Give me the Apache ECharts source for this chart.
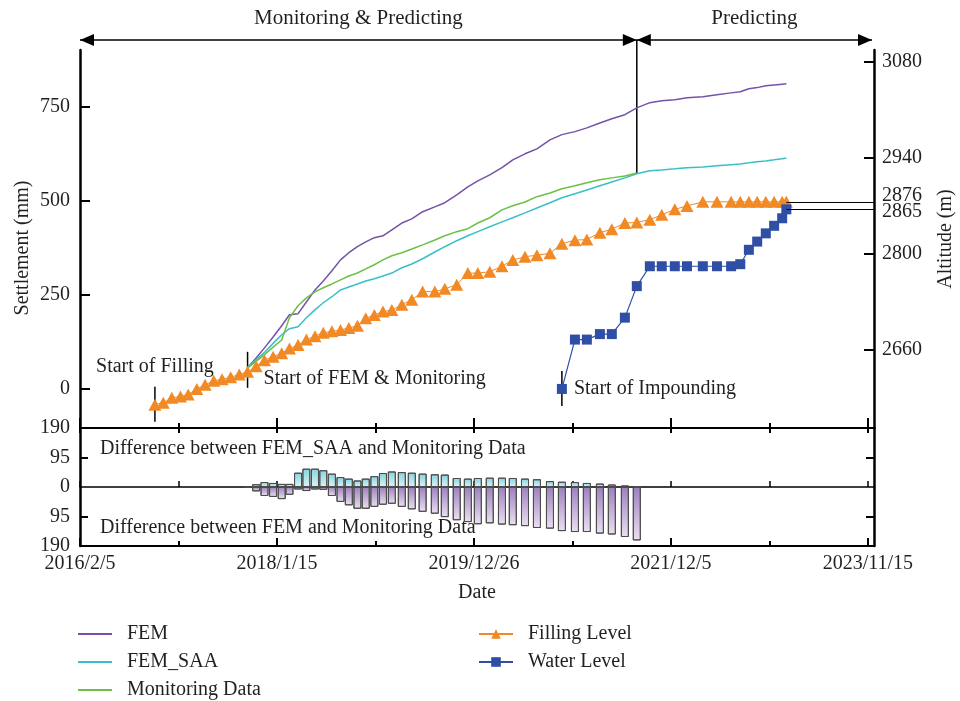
<!DOCTYPE html>
<html>
<head>
<meta charset="utf-8">
<script src="https://cdn.jsdelivr.net/npm/echarts@6/dist/echarts.min.js"></script>
<style>
html, body { margin: 0; padding: 0; background: #fff; }
#main { width: 960px; height: 701px; }
</style>
</head>
<body>
<div id="main"></div>
<script>
// sampling dates (filling level uses all of them)
var dates = [
    "2016/11/1", "2016/12/1", "2017/1/1", "2017/2/1", "2017/3/1", "2017/4/1", "2017/5/1", "2017/6/1",
    "2017/7/1", "2017/8/1", "2017/9/1", "2017/10/1", "2017/11/1", "2017/12/1", "2018/1/1", "2018/2/1",
    "2018/3/1", "2018/4/1", "2018/5/1", "2018/6/1", "2018/7/1", "2018/8/1", "2018/9/1", "2018/10/1",
    "2018/11/1", "2018/12/1", "2019/1/1", "2019/2/1", "2019/3/5", "2019/4/10", "2019/5/16", "2019/6/24",
    "2019/8/7", "2019/9/12", "2019/10/25", "2019/12/4", "2020/1/9", "2020/2/21", "2020/4/5", "2020/5/14",
    "2020/6/27", "2020/8/9", "2020/9/25", "2020/11/7", "2020/12/24", "2021/2/5", "2021/3/24", "2021/5/6",
    "2021/6/22", "2021/8/4", "2021/9/20", "2021/11/2", "2021/12/19", "2022/2/1", "2022/3/30", "2022/5/20",
    "2022/7/10", "2022/8/12", "2022/9/12", "2022/10/12", "2022/11/12", "2022/12/12", "2023/1/10", "2023/1/25"
];

// filling level (m), one value per date
var fillLevel = [
    2580, 2583, 2590, 2592, 2595, 2603, 2609, 2615, 2617, 2620, 2624, 2628,
    2636, 2645, 2650, 2655, 2662, 2667, 2675, 2680, 2685, 2687, 2689, 2692, 2695, 2706, 2711, 2716,
    2718, 2726, 2733, 2745, 2745, 2749, 2755, 2772,
    2772, 2774, 2782, 2791, 2796, 2798, 2801, 2815, 2820, 2821, 2831, 2836, 2845, 2846,
    2850, 2857, 2865, 2870, 2876, 2876, 2876, 2876, 2876, 2876, 2876, 2876, 2876, 2876
];

// settlement (mm), from 2017/10/1 on
var femValue = [
    56, 82, 109, 138, 168, 197, 200, 231, 263, 287, 314, 343, 362, 378, 391, 402, 407, 423, 441, 452,
    471, 484, 495, 516, 537, 553, 569, 588, 609, 625, 638, 662, 676, 684, 694, 707, 718, 729, 747, 761,
    766, 769, 774, 777, 782, 787, 790, 798, 801, 806, 808, 810, 811
];
var femSaaValue = [
    56, 77, 97, 121, 144, 160, 165, 189, 210, 229, 245, 263, 271, 279, 287, 293, 300, 308, 322, 332,
    346, 364, 378, 394, 407, 418, 431, 444, 455, 468, 481, 495, 508, 519, 529, 540, 550, 561, 572, 580,
    582, 585, 588, 590, 593, 596, 598, 601, 604, 606, 609, 612, 614
];
// monitoring data, 2017/10/1 - 2021/8/4
var monitorValue = [
    56, 73, 91, 111, 130, 189, 221, 242, 258, 269, 279, 290, 300, 308, 319, 330, 343, 354, 362, 372,
    383, 396, 407, 418, 426, 441, 455, 476, 487, 497, 511, 521, 532, 540, 548, 556, 561, 566, 574
];

// water level (m), from 2020/11/7 on
var waterLevel = [
    2603, 2675, 2675, 2683, 2683, 2707, 2753, 2782, 2782, 2782, 2782, 2782, 2782, 2782,
    2785, 2806, 2818, 2830, 2841, 2852, 2865
];

// differences (mm), 2017/10/1 - 2021/8/4
var diffSaa = [
    0, 9, 16, 13, 10, 10, 46, 59, 59, 54, 43, 32, 27, 21, 27, 35, 45, 50, 48, 46,
    43, 41, 40, 29, 27, 29, 30, 30, 29, 27, 25, 19, 17, 16, 13, 11, 8, 5, 3
];
var diffFem = [
    -3, -14, -29, -32, -39, -25, -8, -13, -8, -9, -29, -48, -59, -70, -70, -64, -57, -54, -64, -72,
    -80, -86, -97, -107, -113, -120, -117, -121, -123, -126, -132, -134, -142, -145, -145, -150, -153, -161, -172
];

// axis ticks
var xTickLabels = ["2016/2/5", "2018/1/15", "2019/12/26", "2021/12/5", "2023/11/15"];
var xEndDate = "2023/12/7";
var settleTicks = [0, 250, 500, 750];
var altTicks = [2660, 2800, 2940, 3080];
var altMarks = [2865, 2876];
var diffTicks = [-190, -95, 0, 95, 190];

var FONT = "Liberation Serif";
var TXT = "#231f20";

function toTs(s) {
    var p = s.split("/");
    return Date.UTC(+p[0], +p[1] - 1, +p[2]);
}
function fmtDate(v) {
    var d = new Date(v);
    return d.getUTCFullYear() + "/" + (d.getUTCMonth() + 1) + "/" + d.getUTCDate();
}
function plain(v) {
    return String(v);
}
function pairs(ds, vs) {
    var out = [];
    for (var i = 0; i < vs.length; i++) {
        out.push([toTs(ds[i]), vs[i]]);
    }
    return out;
}

var femDates = dates.slice(11);
var monDates = dates.slice(11, 11 + monitorValue.length);
var waterDates = dates.slice(dates.length - waterLevel.length);

var xMin = toTs(xTickLabels[0]);
var xMax = toTs(xEndDate);
var xMajor = xTickLabels.map(toTs);
var xMinor = [];
for (var i = 0; i < xMajor.length - 1; i++) {
    xMinor.push((xMajor[i] + xMajor[i + 1]) / 2);
}
var lastTs = toTs(dates[dates.length - 1]);
var splitTs = toTs(monDates[monDates.length - 1]);

var blackLine = { color: "#000", width: 2.5 };

function xAxisOf(grid, pos, lineShow, ticks, len, extra) {
    var ax = {
        type: "value", gridIndex: grid, position: pos, min: xMin, max: xMax,
        axisLine: { show: lineShow, onZero: false, lineStyle: { color: "#000", width: 2 } },
        axisTick: { show: true, inside: true, length: len, customValues: ticks, lineStyle: { color: "#000", width: 2 } },
        axisLabel: { show: false },
        splitLine: { show: false }
    };
    for (var k in extra) ax[k] = extra[k];
    return ax;
}

// level line from the last point to the right axis, value written beside the axis
function levelLine(v, pad) {
    return {
        silent: true, symbol: ["none", "none"],
        lineStyle: { color: "#000", width: 1.2, type: "solid" },
        label: {
            show: true, position: "end", distance: 8,
            formatter: function () { return "{a|" + v + "}"; },
            rich: { a: { fontFamily: FONT, fontSize: 20, color: TXT, padding: pad } }
        },
        data: [[{ coord: [lastTs, v] }, { coord: [xMax, v] }]]
    };
}

var legendText = { fontFamily: FONT, fontSize: 20, color: TXT, padding: [0, 0, 0, 10] };

var chart = echarts.init(document.getElementById("main"));

var option = {
    animation: false,
    backgroundColor: "#fff",
    grid: [
        { left: 80, right: 86, top: 50, height: 378, outerBoundsMode: "none" },
        { left: 80, right: 86, top: 428, height: 118, outerBoundsMode: "none" }
    ],
    legend: [
        {
            data: ["FEM", "FEM_SAA", "Monitoring Data"],
            orient: "vertical", left: 78, top: 624, padding: 0,
            icon: "rect", itemWidth: 34, itemHeight: 2, itemGap: 8,
            textStyle: legendText
        },
        {
            data: ["Filling Level", "Water Level"],
            orient: "vertical", left: 478, top: 624, padding: 0,
            itemWidth: 34, itemHeight: 12, itemGap: 8,
            textStyle: legendText
        }
    ],
    xAxis: [
        xAxisOf(0, "bottom", true, xMajor, 10, {}),
        xAxisOf(0, "bottom", false, xMinor, 5, {}),
        xAxisOf(1, "bottom", true, xMajor, 8, {
            name: "Date", nameLocation: "middle", nameGap: 37, nameMoveOverlap: false,
            nameTextStyle: { fontFamily: FONT, fontSize: 20, color: TXT },
            axisLabel: { show: true, customValues: xMajor, formatter: fmtDate, margin: 8,
                fontFamily: FONT, fontSize: 20, color: TXT }
        }),
        xAxisOf(1, "bottom", false, xMinor, 5, {}),
        xAxisOf(1, "top", true, xMajor.concat(xMinor), 5, {}),
        (function () {
            var ax = xAxisOf(1, "bottom", true, xMajor.concat(xMinor), 6, {});
            ax.axisLine = { show: true, onZero: true, onZeroAxisIndex: 2, lineStyle: { color: "#000", width: 1.5 } };
            ax.axisTick.lineStyle.width = 1.5;
            return ax;
        })()
    ],
    yAxis: [
        {
            type: "value", gridIndex: 0, position: "left", min: -104, max: 901,
            name: "Settlement (mm)", nameLocation: "middle", nameGap: 47, nameRotate: 90, nameMoveOverlap: false,
            nameTextStyle: { fontFamily: FONT, fontSize: 20, color: TXT, padding: [0, 18, 0, 0] },
            axisLine: { show: true, onZero: false, lineStyle: blackLine },
            axisTick: { show: true, inside: true, length: 10, customValues: settleTicks, lineStyle: { color: "#000", width: 2 } },
            axisLabel: { customValues: settleTicks, margin: 10, formatter: plain, fontFamily: FONT, fontSize: 20, color: TXT },
            splitLine: { show: false }
        },
        {
            type: "value", gridIndex: 0, position: "right", min: 2546, max: 3097.5,
            name: "Altitude (m)", nameLocation: "middle", nameGap: 62, nameRotate: 90, nameMoveOverlap: false,
            nameTextStyle: { fontFamily: FONT, fontSize: 20, color: TXT },
            axisLine: { show: true, onZero: false, lineStyle: blackLine },
            axisTick: { show: true, inside: true, length: 10, customValues: altTicks, lineStyle: { color: "#000", width: 2 } },
            axisLabel: { customValues: altTicks, margin: 8, formatter: plain, fontFamily: FONT, fontSize: 20, color: TXT },
            splitLine: { show: false }
        },
        {
            type: "value", gridIndex: 1, position: "left", min: -190, max: 190,
            axisLine: { show: true, onZero: false, lineStyle: blackLine },
            axisTick: { show: true, inside: true, length: 8, customValues: [-95, 95], lineStyle: { color: "#000", width: 2 } },
            axisLabel: { customValues: diffTicks, margin: 10, fontFamily: FONT, fontSize: 20, color: TXT,
                formatter: function (v) { return String(Math.abs(v)); } },
            splitLine: { show: false }
        },
        {
            type: "value", gridIndex: 1, position: "right", min: -190, max: 190,
            axisLine: { show: true, onZero: false, lineStyle: blackLine },
            axisTick: { show: true, inside: true, length: 8, customValues: [-95, 95], lineStyle: { color: "#000", width: 2 } },
            axisLabel: { show: false },
            splitLine: { show: false }
        }
    ],
    series: [
        {
            name: "FEM", type: "line", xAxisIndex: 0, yAxisIndex: 0,
            symbol: "none", color: "#7452a8", lineStyle: { width: 1.5 },
            data: pairs(femDates, femValue)
        },
        {
            name: "FEM_SAA", type: "line", xAxisIndex: 0, yAxisIndex: 0,
            symbol: "none", color: "#38bfc9", lineStyle: { width: 1.5 },
            data: pairs(femDates, femSaaValue)
        },
        {
            name: "Monitoring Data", type: "line", xAxisIndex: 0, yAxisIndex: 0,
            symbol: "none", color: "#6dbf47", lineStyle: { width: 1.5 },
            data: pairs(monDates, monitorValue)
        },
        {
            name: "Filling Level", type: "line", xAxisIndex: 0, yAxisIndex: 1,
            symbol: "triangle", symbolSize: [13, 12], color: "#f18a25",
            lineStyle: { width: 1 },
            data: pairs(dates, fillLevel),
            markLine: levelLine(altMarks[1], [0, 0, 12, 0])
        },
        {
            name: "Water Level", type: "line", xAxisIndex: 0, yAxisIndex: 1,
            symbol: "rect", symbolSize: 10, color: "#2e4fa5",
            lineStyle: { width: 1.2 },
            data: pairs(waterDates, waterLevel),
            markLine: levelLine(altMarks[0], [4, 0, 0, 0])
        },
        {
            name: "diffSaa", type: "bar", xAxisIndex: 2, yAxisIndex: 2,
            barWidth: 8, barGap: "-100%",
            itemStyle: {
                borderColor: "#4d4d4d", borderWidth: 1,
                color: new echarts.graphic.LinearGradient(0, 0, 0, 1, [
                    { offset: 0, color: "#86d4dd" }, { offset: 1, color: "#dcf3f5" }
                ])
            },
            data: pairs(monDates, diffSaa)
        },
        {
            name: "diffFem", type: "bar", xAxisIndex: 2, yAxisIndex: 2,
            barWidth: 8, barGap: "-100%",
            itemStyle: {
                borderColor: "#4d4d4d", borderWidth: 1,
                color: new echarts.graphic.LinearGradient(0, 0, 0, 1, [
                    { offset: 0, color: "#9d80bf" }, { offset: 1, color: "#ebe0f1" }
                ])
            },
            data: pairs(monDates, diffFem)
        }
    ]
};

chart.setOption(option);

// annotations placed from data coordinates
function P(xi, yi, x, y) {
    return chart.convertToPixel({ xAxisIndex: xi, yAxisIndex: yi }, [x, y]);
}
var txt = function (x, y, s, align, size) {
    return { type: "text", x: x, y: y, style: { text: s, fontFamily: FONT, fontSize: size || 20, fill: TXT,
        align: align || "left", verticalAlign: "middle" } };
};
var seg = function (x1, y1, x2, y2, w) {
    return { type: "line", shape: { x1: x1, y1: y1, x2: x2, y2: y2 }, style: { stroke: "#000", lineWidth: w || 1.5 } };
};
var head = function (x, y, dir) {
    return { type: "polygon", shape: { points: [[x, y], [x - dir * 14, y - 6], [x - dir * 14, y + 6]] }, style: { fill: "#000" } };
};

var topY = P(0, 0, xMin, 901)[1] - 10;
var xL = P(0, 0, xMin, 0)[0];
var xS = P(0, 0, splitTs, 0)[0];
var xR = P(0, 0, xMax, 0)[0] - 2;
var pSplit = P(0, 0, splitTs, monitorValue[monitorValue.length - 1]);
var pFill = P(0, 1, toTs(dates[0]), fillLevel[0]);
var pFem = P(0, 0, toTs(femDates[0]), femValue[0]);
var pImp = P(0, 1, toTs(waterDates[0]), waterLevel[0]);
var pDiffTop = P(2, 2, xMin, 122);
var pDiffBot = P(2, 2, xMin, -132);

chart.setOption({
    graphic: [
        seg(xL, topY, xS, topY, 1.5), head(xL, topY, -1), head(xS, topY, 1),
        seg(xS, topY, xR, topY, 1.5), head(xS, topY, -1), head(xR, topY, 1),
        txt((xL + xS) / 2, topY - 22, "Monitoring & Predicting", "center", 21),
        txt((xS + xR) / 2, topY - 22, "Predicting", "center", 21),
        seg(xS, topY, xS, pSplit[1], 1.5),
        seg(pFill[0], pFill[1] - 18, pFill[0], pFill[1] + 17, 1.5),
        txt(pFill[0], pFill[1] - 38, "Start of Filling", "center"),
        seg(pFem[0], pFem[1] - 16, pFem[0], pFem[1] + 20, 1.5),
        txt(pFem[0] + 16, pFem[1] + 11, "Start of FEM & Monitoring"),
        seg(pImp[0], pImp[1] - 18, pImp[0], pImp[1] + 17, 1.5),
        txt(pImp[0] + 12, pImp[1], "Start of Impounding"),
        txt(pDiffTop[0] + 20, pDiffTop[1], "Difference between FEM_SAA and Monitoring Data"),
        txt(pDiffBot[0] + 20, pDiffBot[1], "Difference between FEM and Monitoring Data")
    ]
});
</script>
</body>
</html>
